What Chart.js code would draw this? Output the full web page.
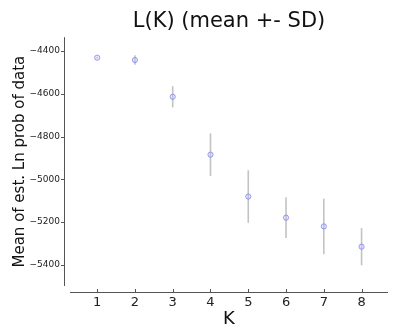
<!DOCTYPE html>
<html>
<head>
<meta charset="utf-8">
<script src="https://cdn.jsdelivr.net/npm/chart.js@4"></script>
<style>
  body { margin: 0; background: #fff; }
  canvas { display: block; }
</style>
</head>
<body>
<canvas id="lkChart" width="393" height="334"></canvas>
<script>
// values
const kValues = [1, 2, 3, 4, 5, 6, 7, 8];
const meanLnProb = [-4431, -4442, -4614, -4885, -5081, -5180, -5221, -5316];
const sdLnProb = [3, 22, 50, 100, 123, 95, 130, 87];
const yTickValues = [-4400, -4600, -4800, -5000, -5200, -5400];
const xTickValues = [1, 2, 3, 4, 5, 6, 7, 8];

const points = kValues.map((k, i) => ({ x: k, y: meanLnProb[i] }));

const fontFamily = '"DejaVu Sans", sans-serif';
const axisColor = '#555';

// error bars + matplotlib-like offset spines
const errorBars = {
    id: 'errorBars',
    beforeDatasetsDraw(chart) {
        const { ctx, scales: { x, y } } = chart;
        ctx.save();
        ctx.strokeStyle = 'rgba(170,170,170,0.7)';
        ctx.lineWidth = 1.6;
        kValues.forEach((k, i) => {
            const px = x.getPixelForValue(k);
            ctx.beginPath();
            ctx.moveTo(px, y.getPixelForValue(meanLnProb[i] + sdLnProb[i]));
            ctx.lineTo(px, y.getPixelForValue(meanLnProb[i] - sdLnProb[i]));
            ctx.stroke();
        });
        ctx.restore();
    },
    afterDraw(chart) {
        const { ctx, chartArea: a, scales: { x, y } } = chart;
        const off = 6;
        ctx.save();
        ctx.strokeStyle = axisColor;
        ctx.lineWidth = 1;
        // y spine, ticks outward
        ctx.beginPath();
        ctx.moveTo(a.left - off + 0.5, a.top);
        ctx.lineTo(a.left - off + 0.5, a.bottom);
        yTickValues.forEach(v => {
            const py = Math.round(y.getPixelForValue(v)) + 0.5;
            ctx.moveTo(a.left - off - 3, py);
            ctx.lineTo(a.left - off, py);
        });
        // x spine, ticks inward
        ctx.moveTo(a.left, a.bottom + off + 0.5);
        ctx.lineTo(a.right, a.bottom + off + 0.5);
        xTickValues.forEach(v => {
            const px = Math.round(x.getPixelForValue(v)) + 0.5;
            ctx.moveTo(px, a.bottom + off);
            ctx.lineTo(px, a.bottom + off - 3);
        });
        ctx.stroke();
        ctx.restore();
    }
};

const ctx = document.getElementById('lkChart').getContext('2d');
new Chart(ctx, {
    type: 'scatter',
    data: {
        datasets: [{
            label: 'L(K)',
            data: points,
            pointRadius: 2.6,
            pointBorderWidth: 1,
            pointBackgroundColor: 'rgba(185,185,255,0.35)',
            borderColor: 'rgba(120,120,235,0.7)',
            pointBorderColor: 'rgba(120,120,235,0.7)'
        }]
    },
    options: {
        responsive: false,
        animation: false,
        layout: { padding: { right: 2 } },
        plugins: {
            legend: { display: false },
            tooltip: { enabled: false },
            title: {
                display: true,
                text: 'L(K) (mean +- SD)',
                fullSize: false,
                color: '#111',
                font: { family: fontFamily, size: 21, weight: 'normal' },
                padding: { top: 9, bottom: 3 }
            }
        },
        scales: {
            x: {
                type: 'linear',
                min: 0.28,
                max: 8.7,
                afterBuildTicks: s => { s.ticks = xTickValues.map(v => ({ value: v })); },
                afterFit: s => { s.height = 48; },
                grid: { display: false, drawTicks: false },
                border: { display: false },
                ticks: {
                    color: '#222',
                    padding: 9,
                    font: { family: fontFamily, size: 13 }
                },
                title: {
                    display: true,
                    text: 'K',
                    color: '#111',
                    font: { family: fontFamily, size: 18 },
                    padding: { top: 0, bottom: 4 }
                }
            },
            y: {
                min: -5500,
                max: -4335,
                afterBuildTicks: s => { s.ticks = yTickValues.map(v => ({ value: v })); },
                afterFit: s => { s.width = 70; },
                grid: { display: false, drawTicks: false },
                border: { display: false },
                ticks: {
                    color: '#222',
                    padding: 10,
                    font: { family: fontFamily, size: 9 },
                    callback: v => String(v).replace('-', '\u2212')
                },
                title: {
                    display: true,
                    text: 'Mean of est. Ln prob of data',
                    color: '#111',
                    font: { family: fontFamily, size: 15 },
                    padding: { top: 11, bottom: 0 }
                }
            }
        }
    },
    plugins: [errorBars]
});
</script>
</body>
</html>
